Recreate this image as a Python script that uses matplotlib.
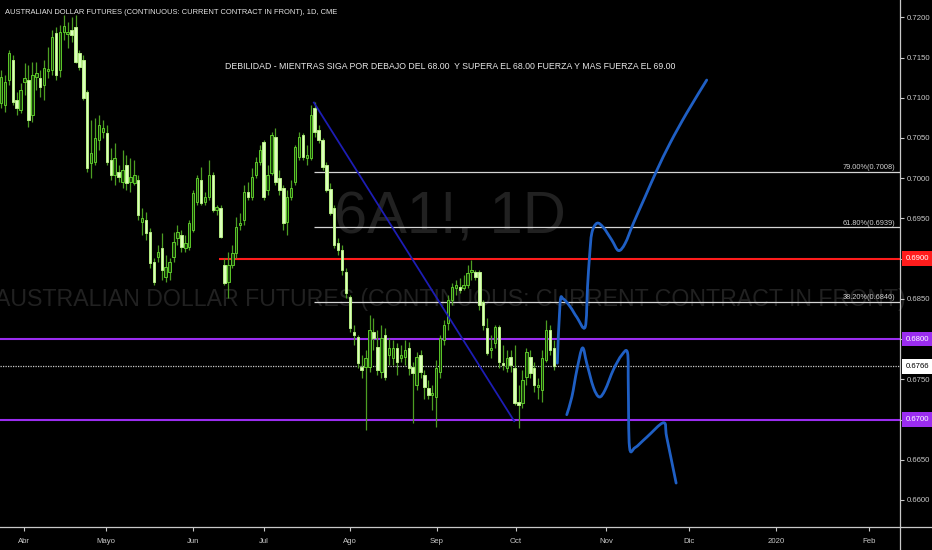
import numpy as np
import matplotlib
matplotlib.use('Agg')
import matplotlib.pyplot as plt
import matplotlib.transforms as mtransforms
from matplotlib.lines import Line2D
from matplotlib.path import Path
from matplotlib.patches import PathPatch

plt.rcParams['font.family'] = ['Liberation Sans', 'DejaVu Sans']

# daily OHLC, 6A1! (one value per bar)
opens = [
    .7093, .7091, .7122, .7147, .7097, .7085, .7120, .7122, .7079, .7126,
    .7125, .7116, .7133, .7134, .7180, .7134, .7182, .7179, .7184, .7188,
    .7156, .7147, .7107, .7019, .7020, .7047, .7057, .7056, .7023, .7004,
    .7008, .6995, .7016, .6995, .6994, .6998, .6946, .6948, .6933, .6896,
    .6902, .6913, .6877, .6883, .6902, .6926, .6929, .6913, .6914, .6936,
    .6971, .6998, .6971, .6977, .7004, .6960, .6963, .6892, .6871, .6892,
    .6907, .6942, .6948, .6983, .6977, .7004, .7020, .7045, .6985, .7007,
    .7051, .7000, .6988, .6946, .6977, .6995, .7026, .7054, .7025, .7025,
    .7087, .7060, .7047, .7016, .6987, .6963, .6919, .6911, .6883, .6852,
    .6809, .6803, .6765, .6765, .6765, .6809, .6790, .6759, .6805, .6780,
    .6777, .6789, .6777, .6778, .6789, .6765, .6743, .6780, .6755, .6739,
    .6731, .6728, .6759, .6799, .6820, .6849, .6864, .6865, .6864, .6867,
    .6883, .6883, .6883, .6846, .6814, .6787, .6795, .6815, .6770, .6764,
    .6778, .6764, .6722, .6721, .6753, .6778, .6764, .6740, .6737, .6774,
    .6811, .6789]
highs = [
    .7134, .7128, .7159, .7153, .7107, .7118, .7143, .7141, .7144, .7144,
    .7134, .7147, .7163, .7184, .7188, .7190, .7203, .7194, .7200, .7203,
    .7159, .7153, .7110, .7072, .7075, .7079, .7072, .7066, .7038, .7044,
    .7016, .7035, .7029, .7025, .7023, .7004, .6963, .6958, .6938, .6901,
    .6917, .6932, .6905, .6901, .6933, .6942, .6936, .6929, .6948, .6985,
    .7004, .7014, .6983, .7023, .7008, .6967, .6967, .6901, .6908, .6917,
    .6952, .6957, .6992, .6995, .7013, .7026, .7041, .7047, .7016, .7057,
    .7062, .7010, .6992, .6985, .6998, .7041, .7057, .7056, .7041, .7091,
    .7095, .7066, .7050, .7020, .6994, .6967, .6926, .6917, .6888, .6855,
    .6818, .6805, .6780, .6787, .6830, .6826, .6811, .6818, .6814, .6801,
    .6799, .6795, .6793, .6799, .6796, .6772, .6784, .6787, .6762, .6749,
    .6743, .6774, .6805, .6824, .6855, .6870, .6874, .6876, .6880, .6892,
    .6898, .6886, .6886, .6849, .6826, .6805, .6818, .6818, .6793, .6787,
    .6787, .6793, .6743, .6762, .6789, .6787, .6772, .6752, .6787, .6824,
    .6818, .6799]
lows = [
    .7087, .7082, .7116, .7091, .7079, .7081, .7103, .7064, .7070, .7110,
    .7101, .7097, .7125, .7128, .7122, .7126, .7172, .7162, .7169, .7143,
    .7134, .7097, .7008, .7000, .7016, .7035, .7050, .7016, .6998, .6992,
    .6995, .6988, .6985, .6983, .6992, .6948, .6929, .6923, .6888, .6867,
    .6896, .6874, .6871, .6874, .6896, .6917, .6908, .6908, .6911, .6933,
    .6967, .6967, .6967, .6973, .6958, .6954, .6926, .6867, .6851, .6888,
    .6901, .6936, .6942, .6973, .6973, .7000, .7016, .6973, .6979, .7004,
    .6992, .6979, .6936, .6929, .6973, .6992, .7023, .7023, .7016, .7023,
    .7051, .7044, .7010, .6983, .6954, .6913, .6905, .6880, .6851, .6809,
    .6793, .6764, .6752, .6687, .6759, .6787, .6755, .6752, .6749, .6768,
    .6768, .6755, .6772, .6768, .6755, .6696, .6737, .6752, .6725, .6725,
    .6712, .6691, .6752, .6793, .6811, .6842, .6855, .6857, .6861, .6864,
    .6874, .6874, .6836, .6811, .6780, .6777, .6789, .6764, .6762, .6759,
    .6759, .6718, .6690, .6714, .6743, .6752, .6734, .6725, .6722, .6772,
    .6780, .6762]
closes = [
    .7126, .7120, .7156, .7095, .7087, .7110, .7125, .7072, .7128, .7131,
    .7113, .7137, .7136, .7176, .7128, .7182, .7189, .7182, .7178, .7144,
    .7138, .7100, .7013, .7031, .7050, .7066, .7062, .7020, .7004, .7025,
    .7002, .7010, .6994, .7002, .7004, .6954, .6951, .6932, .6895, .6871,
    .6908, .6886, .6890, .6896, .6921, .6933, .6914, .6919, .6944, .6982,
    .7000, .6969, .6977, .7004, .6960, .6964, .6927, .6870, .6892, .6907,
    .6939, .6944, .6983, .6976, .7002, .7020, .7035, .6976, .7004, .7054,
    .6995, .6985, .6944, .6976, .6988, .7039, .7051, .7026, .7029, .7079,
    .7057, .7047, .7014, .6985, .6957, .6917, .6911, .6886, .6857, .6814,
    .6805, .6770, .6762, .6777, .6811, .6801, .6762, .6801, .6753, .6789,
    .6789, .6772, .6780, .6787, .6764, .6758, .6778, .6759, .6740, .6731,
    .6733, .6764, .6801, .6818, .6849, .6865, .6867, .6861, .6867, .6882,
    .6886, .6877, .6842, .6818, .6783, .6789, .6815, .6772, .6768, .6777,
    .6768, .6721, .6718, .6749, .6784, .6758, .6743, .6743, .6777, .6811,
    .6787, .6766]

# month labels and the bar number they fall on
month_labels = ['Abr', 'Mayo', 'Jun', 'Jul', 'Ago', 'Sep', 'Oct', 'Nov', 'Dic', '2020', 'Feb']
month_bars = [5.9, 26.8, 49.0, 67.1, 89.0, 111.2, 131.4, 154.3, 175.5, 197.7, 221.4]

# drawings
fib_levels = [0.7008, 0.6939, 0.6846]
fib_names = ['79.00%(0.7008)', '61.80%(0.6939)', '38.20%(0.6846)']
fib_start = 79.8
red_level, red_start = 0.6900, 55.7
purple_levels = [0.6800, 0.6700]
last_price = 0.6766
trend_x = [79.8, 130.9]
trend_y = [0.7094, 0.6698]

bull_x = [141.9, 142.6, 143.4, 145.2, 146.9, 149.0, 149.6, 150.1, 150.7, 152.0,
          153.6, 155.8, 157.5, 159.2, 161.3, 164.3, 167.3, 170.7, 174.9, 180.0]
bull_y = [.6770, .6845, .6850, .6840, .6827, .6815, .6865, .6902, .6932, .6944,
          .6939, .6923, .6910, .6919, .6944, .6977, .7010, .7044, .7081, .7122]
bear_x = [144.3, 145.6, 146.9, 148.3, 149.4, 151.1, 152.6, 154.1, 156.2, 158.3,
          159.8, 160.0, 160.3, 161.7, 164.7, 169.0, 169.8, 172.2]
bear_y = [.6706, .6728, .6762, .6789, .6770, .6740, .6728, .6737, .6762, .6780,
          .6783, .6740, .6666, .6665, .6678, .6696, .6678, .6621]

# colours
bg = 'black'
axis_col = '#c8c8c8'
up_fill, up_edge = '#1a3d0b', '#5cc82a'
dn_fill, dn_edge = '#dcffbc', '#b6ee84'
wick_col = '#4c9e22'
purple = '#9b2df0'
red = '#ff1c1c'
ink = '#e6e6e6'
ghost = '#212121'

fig = plt.figure(figsize=(9.32, 5.5), dpi=100, facecolor=bg)
ax = fig.add_axes([0, 23 / 550, 900 / 932, 527 / 550], facecolor=bg)
ax.set_xlim(-0.26, 229.3)
ax.set_ylim(0.65664, 0.72215)
renderer = fig.canvas.get_renderer()


def fit_width(t, width_px):
    # scale a text so it spans the same width as on the reference
    w = t.get_window_extent(renderer=renderer).width
    t.set_fontsize(t.get_fontsize() * width_px / w)


def smooth(xs, ys):
    # hand drawn stroke: cubic pieces through the read points
    p = np.column_stack([xs, ys])
    verts, codes = [p[0]], [Path.MOVETO]
    for k in range(len(p) - 1):
        a = p[max(k - 1, 0)]
        d = p[min(k + 2, len(p) - 1)]
        verts += [p[k] + (p[k + 1] - a) / 6, p[k + 1] - (d - p[k]) / 6, p[k + 1]]
        codes += [Path.CURVE4] * 3
    return Path(verts, codes)


# watermark
wm1 = ax.text(0.5, 0.586, '6A1!, 1D', transform=ax.transAxes, ha='center', va='center',
              fontsize=44, color=ghost, zorder=0.5)
wm2 = ax.text(0.5, 0.431, 'AUSTRALIAN DOLLAR FUTURES (CONTINUOUS: CURRENT CONTRACT IN FRONT)',
              transform=ax.transAxes, ha='center', va='center', fontsize=25, color=ghost,
              zorder=0.5)
fit_width(wm1, 232)
fit_width(wm2, 915)

# candles
o, h, l, c = map(np.array, (opens, highs, lows, closes))
x = np.arange(len(c))
up = c >= o
ax.vlines(x, l, h, color=wick_col, lw=0.9, zorder=3)
ax.bar(x[up], np.maximum(c - o, 0.00004)[up], bottom=o[up], width=0.62,
       color=up_fill, edgecolor=up_edge, lw=0.7, zorder=4)
ax.bar(x[~up], np.maximum(o - c, 0.00004)[~up], bottom=c[~up], width=0.62,
       color=dn_fill, edgecolor=dn_edge, lw=0.7, zorder=4)

# levels
xr = ax.get_xlim()[1]
for lv in purple_levels:
    ax.axhline(lv, color=purple, lw=1.5, zorder=2)
ax.hlines(red_level, red_start, xr, color=red, lw=1.5, zorder=2)
ax.axhline(last_price, color=axis_col, lw=0.9, ls=(0, (1, 1)), zorder=2)
ax.hlines(fib_levels, fib_start, xr, color='#d5d5d5', lw=0.9, zorder=2)
blend = mtransforms.blended_transform_factory(ax.transAxes, ax.transData)
for lv, name in zip(fib_levels, fib_names):
    ax.text(895 / 900, lv + 0.00008, name, transform=blend, ha='right', va='bottom',
            fontsize=5.3, color='#d0d0d0', zorder=6)

ax.plot(trend_x, trend_y, color='#1d1db4', lw=1.3, zorder=5)
for px, py in ((bull_x, bull_y), (bear_x, bear_y)):
    ax.add_patch(PathPatch(smooth(px, py), fc='none', ec='#1f5fc4', lw=2.0,
                           capstyle='round', joinstyle='round', zorder=6))

# texts
title = fig.text(5 / 932, 1 - 13 / 550,
                 'AUSTRALIAN DOLLAR FUTURES (CONTINUOUS: CURRENT CONTRACT IN FRONT), 1D, CME',
                 ha='left', va='center', fontsize=6.5, color=ink)
fit_width(title, 330)
note = ax.text(0.5, 0.873,
               'DEBILIDAD - MIENTRAS SIGA POR DEBAJO DEL 68.00  Y SUPERA EL 68.00 FUERZA Y MAS FUERZA EL 69.00',
               transform=ax.transAxes, ha='center', va='center', fontsize=6.8, color=ink,
               zorder=6)
fit_width(note, 452)

# axes
for s in ax.spines.values():
    s.set_visible(False)
ax.yaxis.tick_right()
yt = np.arange(0.660, 0.7201, 0.005)
ax.set_yticks(yt)
ax.set_yticklabels(['%.4f' % v for v in yt])
ax.set_xticks(month_bars)
ax.set_xticklabels(month_labels)
ax.tick_params(colors=axis_col, labelsize=5.6, length=3, width=0.8, pad=2)
ax.tick_params(axis='x', pad=5)
fig.add_artist(Line2D([0, 1], [23 / 550, 23 / 550], color=axis_col, lw=0.9))
fig.add_artist(Line2D([900 / 932, 900 / 932], [0, 1], color=axis_col, lw=0.9))

# price tags on the scale
tags = [(red_level, red, 'white'), (purple_levels[0], purple, 'white'),
        (last_price, 'white', 'black'), (purple_levels[1], purple, 'white')]
for lv, fc, tc in tags:
    ax.text(905.5 / 900, lv, '%.4f' % lv, transform=blend, ha='left', va='center',
            fontsize=5.6, color=tc, clip_on=False, zorder=10,
            bbox=dict(boxstyle='square,pad=0.5', fc=fc, ec='none'))

fig.savefig('out.png', dpi=100, facecolor=bg)
